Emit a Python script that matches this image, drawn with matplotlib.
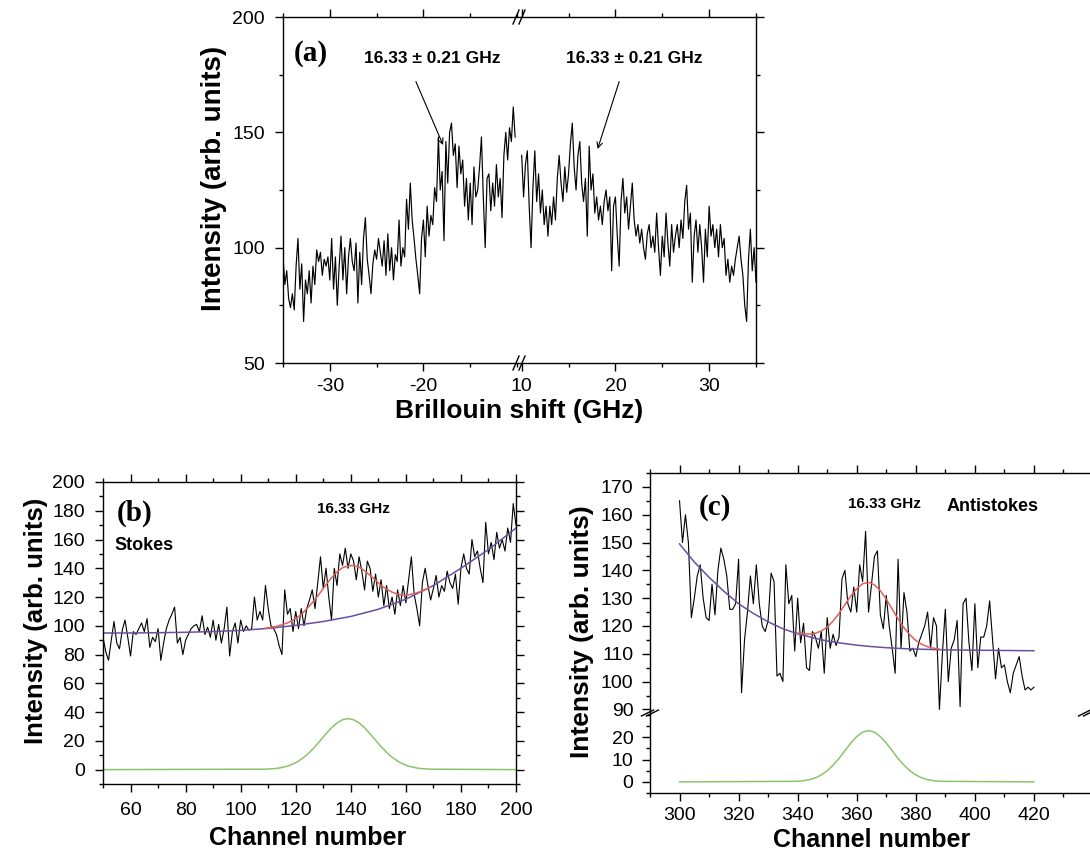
import numpy as np
import matplotlib
matplotlib.use('Agg')
import matplotlib.pyplot as plt
from matplotlib.ticker import MultipleLocator
from matplotlib.lines import Line2D

plt.rcParams['font.family'] = ['Liberation Sans', 'DejaVu Sans']
plt.rcParams['axes.unicode_minus'] = False

# ---------------- (a) Brillouin spectrum, two halves of a broken axis
int_neg = [96, 84, 90, 78, 74, 80, 73, 92, 104, 82, 93, 68, 86, 80, 90, 76, 92, 84, 99, 94, 98, 88, 95, 92, 96,
           86, 104, 82, 96, 75, 92, 105, 86, 100, 80, 96, 104, 94, 90, 102, 76, 98, 84, 104, 113, 95, 88, 80, 93, 99,
           95, 104, 98, 92, 103, 88, 106, 90, 100, 86, 97, 94, 112, 92, 100, 96, 121, 108, 128, 112, 104, 95, 88, 80, 104,
           112, 96, 118, 105, 114, 110, 126, 120, 148, 125, 133, 103, 146, 128, 150, 154, 140, 145, 126, 144, 132, 138, 118, 130, 112,
           128, 110, 135, 122, 125, 135, 148, 122, 100, 130, 132, 116, 128, 118, 136, 122, 130, 113, 140, 150, 138, 152, 146, 161, 148]
int_pos = [140, 122, 136, 142, 118, 100, 126, 142, 120, 132, 115, 125, 110, 118, 105, 118, 110, 122, 112, 130,
           140, 128, 120, 135, 124, 132, 145, 154, 135, 125, 140, 146, 128, 120, 130, 105, 144, 125, 132, 115,
           122, 112, 118, 110, 120, 125, 116, 122, 90, 118, 122, 105, 92, 120, 130, 115, 122, 108, 118, 128,
           112, 105, 110, 102, 108, 100, 95, 106, 110, 100, 105, 98, 115, 100, 88, 105, 96, 115, 102, 92,
           110, 98, 105, 110, 100, 112, 104, 120, 127, 108, 115, 85, 105, 112, 98, 110, 100, 85, 108, 96,
           118, 105, 110, 100, 108, 96, 110, 100, 104, 88, 95, 85, 92, 88, 95, 100, 105, 95, 88, 75,
           68, 95, 108, 90, 100, 85]
shift_neg = -35.0 + 0.2 * np.arange(len(int_neg))
shift_pos = 10.0 + 0.2 * np.arange(len(int_pos))

# ---------------- (b) Stokes side
chan_b = np.arange(50, 201)
int_b = [92, 82, 76, 90, 103, 88, 84, 97, 104, 92, 79, 96, 94, 98, 102, 96, 105, 85, 92, 89,
         98, 76, 88, 98, 104, 108, 113, 88, 92, 80, 90, 94, 98, 100, 101, 96, 107, 94, 99, 92,
         104, 90, 101, 88, 98, 113, 79, 96, 102, 88, 104, 96, 100, 97, 98, 120, 104, 110, 104, 128,
         112, 100, 98, 94, 86, 80, 125, 108, 112, 96, 110, 98, 112, 100, 112, 118, 125, 112, 130, 148,
         126, 140, 120, 104, 140, 128, 150, 142, 154, 140, 150, 145, 132, 148, 138, 125, 145, 140, 124, 136,
         120, 132, 114, 128, 112, 120, 108, 125, 114, 128, 116, 132, 148, 122, 112, 100, 130, 140, 128, 118,
         126, 135, 120, 128, 124, 138, 130, 126, 136, 115, 140, 150, 140, 136, 160, 148, 152, 140, 130, 172,
         150, 158, 146, 165, 154, 160, 152, 168, 158, 185, 170]
base_x_b = [50, 60, 70, 80, 90, 100, 110, 120, 130, 140, 150, 160, 170, 180, 190, 200]
base_b = [95, 95, 95.2, 95.5, 96, 96.8, 98.2, 100.3, 103, 106.5, 111.5, 118.5, 128, 140, 153, 168]
peak_x_b = [50] + list(range(109, 170, 2)) + [200]
peak_b = [0, 0.3, 0.5, 0.8, 1.5, 2.4, 3.9, 5.9, 8.6, 12.0, 16.0, 20.4, 24.9, 29.1, 32.5, 34.7, 35.5,
          34.7, 32.5, 29.1, 24.9, 20.4, 16.0, 12.0, 8.6, 5.9, 3.9, 2.4, 1.5, 0.8, 0.5, 0.3, 0]
fit_x_b = list(range(109, 170, 2))
fit_b = [98.3, 98.9, 99.6, 100.7, 102.0, 104.0, 106.4, 109.8, 113.8, 118.4, 123.3, 128.5, 133.4, 137.5, 140.4, 141.7,
         141.9, 140.7, 138.3, 135.1, 131.6, 128.1, 125.5, 123.4, 122.0, 121.4, 121.5, 122.4, 123.6, 125.2, 127.1]

# ---------------- (c) anti-Stokes side
chan_c = np.arange(300, 421)
int_c = [165, 150, 160, 150, 123, 130, 138, 142, 130, 123, 122, 135, 124, 140, 148, 144, 138, 126, 126, 128,
         144, 96, 115, 125, 138, 128, 142, 128, 120, 118, 122, 139, 136, 102, 103, 100, 142, 128, 131, 111,
         130, 114, 121, 105, 104, 118, 116, 112, 118, 103, 123, 112, 117, 113, 116, 137, 140, 128, 125, 134,
         125, 142, 136, 154, 125, 135, 145, 147, 124, 119, 131, 120, 112, 103, 144, 112, 132, 125, 111, 112,
         109, 114, 117, 120, 125, 112, 123, 120, 90, 110, 126, 100, 112, 115, 122, 91, 128, 130, 114, 104,
         128, 105, 116, 116, 120, 129, 115, 101, 112, 105, 106, 100, 96, 103, 106, 109, 102, 97, 98, 97, 98]
base_x_c = [300, 305, 310, 315, 320, 325, 330, 335, 340, 345, 350, 355, 360, 365, 370, 375, 380, 390, 400, 410, 420]
base_c = [149.5, 143, 137.5, 132.5, 128, 124.5, 121.5, 119, 117.2, 115.8, 114.6, 113.8, 113.1, 112.6, 112.2,
          111.9, 111.7, 111.4, 111.3, 111.2, 111.1]
peak_x_c = [300] + list(range(340, 389, 2)) + [420]
peak_c = [0, 0.25, 0.5, 1.0, 1.8, 3.1, 5.0, 7.5, 10.5, 14.0, 17.4, 20.3, 22.3, 23.0,
          22.3, 20.3, 17.4, 14.0, 10.5, 7.5, 5.0, 3.1, 1.8, 1.0, 0.5, 0.25, 0]
fit_x_c = list(range(340, 389, 2))
fit_c = [117.45, 117.1, 117.1, 117.4, 118.2, 119.6, 121.8, 124.5, 127.7, 130.8, 133.4, 135.2, 135.7,
         134.8, 132.7, 129.6, 126.1, 122.5, 119.4, 116.8, 114.8, 113.4, 112.55, 112.0, 111.7]

BASE_COL = '#6a4f9e'
FIT_COL = '#e0605a'
PEAK_COL = '#8cc46e'

W, H = 1090, 860
fig = plt.figure(figsize=(W / 100, H / 100), dpi=100)


def box(l, t, r, b):
    return [l / W, 1 - b / H, (r - l) / W, (b - t) / H]


def brk(x, y, dx, dy, gap):
    for off in (-gap, gap):
        fig.add_artist(Line2D([(x - dx + off) / W, (x + dx + off) / W],
                              [1 - (y + dy) / H, 1 - (y - dy) / H],
                              color='black', lw=1.0, transform=fig.transFigure))


def ticks(ax, size, pad):
    ax.tick_params(which='both', labelsize=size, width=1.0, direction='out', pad=pad)
    ax.tick_params(which='major', length=6)
    ax.tick_params(which='minor', length=3)
    for s in ax.spines.values():
        s.set_linewidth(1.0)


# ---- panel (a)
axL = fig.add_axes(box(283, 17, 517, 363))
axR = fig.add_axes(box(517, 17, 756, 363), sharey=axL)
axL.plot(shift_neg, int_neg, color='black', lw=0.85)
axR.plot(shift_pos, int_pos, color='black', lw=0.85)
axL.set_xlim(-35, -10)
axR.set_xlim(9.5, 35)
axL.set_ylim(50, 200)
for ax in (axL, axR):
    ticks(ax, 14, 5)
    ax.xaxis.set_major_locator(MultipleLocator(10))
    ax.xaxis.set_minor_locator(MultipleLocator(5))
    ax.yaxis.set_major_locator(MultipleLocator(50))
    ax.yaxis.set_minor_locator(MultipleLocator(25))
    ax.tick_params(which='both', top=True)
axL.tick_params(axis='y', pad=7)
axL.set_xticks([-30, -20])
axL.spines['right'].set_visible(False)
axR.spines['left'].set_visible(False)
axR.tick_params(which='both', left=False, labelleft=False, right=True)
axR.set_xticks([10, 20, 30])
axL.text(-33.8, 184, '(a)', family=['Liberation Serif'], fontweight='bold', fontsize=21, va='center')
arrow = dict(arrowstyle='->', color='black', lw=0.8, shrinkA=0, shrinkB=0)
axL.text(-19.1, 182, '16.33 \u00b1 0.21 GHz', ha='center', va='center', fontsize=12.5, fontweight='bold')
axL.annotate('', xy=(-17.9, 144.5), xytext=(-20.8, 172), arrowprops=arrow)
axR.text(22.0, 182, '16.33 \u00b1 0.21 GHz', ha='center', va='center', fontsize=12.5, fontweight='bold')
axR.annotate('', xy=(18.1, 142.8), xytext=(20.4, 172), arrowprops=arrow)
brk(519, 17, 3, 7, 3)
brk(519, 363, 3, 7, 3)
fig.text(214 / W, 1 - 178 / H, 'Intensity (arb. units)', rotation=90, ha='center', va='center',
         fontsize=20, fontweight='bold')
fig.text(519 / W, 1 - 411 / H, 'Brillouin shift (GHz)', ha='center', va='center',
         fontsize=19, fontweight='bold')

# ---- panel (b)
axb = fig.add_axes(box(103, 482, 516, 784))
axb.plot(chan_b, int_b, color='black', lw=0.8)
axb.plot(base_x_b, base_b, color=BASE_COL, lw=1.1)
axb.plot(fit_x_b, fit_b, color=FIT_COL, lw=1.1)
axb.plot(peak_x_b, peak_b, color=PEAK_COL, lw=1.1)
axb.set_xlim(50, 200)
axb.set_ylim(-10, 200)
ticks(axb, 14, 7)
axb.xaxis.set_major_locator(MultipleLocator(20))
axb.xaxis.set_minor_locator(MultipleLocator(10))
axb.yaxis.set_major_locator(MultipleLocator(20))
axb.yaxis.set_minor_locator(MultipleLocator(10))
axb.set_xticks(range(60, 201, 20))
axb.set_yticks(range(0, 201, 20))
axb.tick_params(which='both', top=True, right=True)
axb.text(55, 178, '(b)', family=['Liberation Serif'], fontweight='bold', fontsize=21, va='center')
axb.text(141, 181, '16.33 GHz', ha='center', va='center', fontsize=11, fontweight='bold')
axb.text(54, 156, 'Stokes', ha='left', va='center', fontsize=13, fontweight='bold')
fig.text(36 / W, 1 - 621 / H, 'Intensity (arb. units)', rotation=90, ha='center', va='center',
         fontsize=18.5, fontweight='bold')
fig.text(308 / W, 1 - 838 / H, 'Channel number', ha='center', va='center',
         fontsize=18, fontweight='bold')

# ---- panel (c), broken y axis
axcu = fig.add_axes(box(650, 473, 1093, 715))
axcl = fig.add_axes(box(650, 715, 1093, 793), sharex=axcu)
for ax in (axcu, axcl):
    ax.plot(chan_c, int_c, color='black', lw=0.8)
    ax.plot(base_x_c, base_c, color=BASE_COL, lw=1.1)
    ax.plot(fit_x_c, fit_c, color=FIT_COL, lw=1.1)
    ax.plot(peak_x_c, peak_c, color=PEAK_COL, lw=1.1)
    ticks(ax, 14, 6)
    ax.tick_params(which='both', right=True)
axcl.tick_params(axis='x', pad=4)
axcu.set_xlim(290, 440)
axcu.set_ylim(88, 175)
axcl.set_ylim(-5, 30)
axcu.spines['bottom'].set_visible(False)
axcl.spines['top'].set_visible(False)
axcu.tick_params(which='both', bottom=False, labelbottom=False, top=True)
axcl.xaxis.set_major_locator(MultipleLocator(20))
axcl.xaxis.set_minor_locator(MultipleLocator(10))
axcl.set_xticks(range(300, 421, 20))
axcu.set_yticks(range(90, 171, 10))
axcu.yaxis.set_minor_locator(MultipleLocator(5))
axcl.set_yticks([0, 10, 20])
axcl.yaxis.set_minor_locator(MultipleLocator(5))
axcu.text(306.5, 162.5, '(c)', family=['Liberation Serif'], fontweight='bold', fontsize=21, va='center')
axcu.text(369.5, 164, '16.33 GHz', ha='center', va='center', fontsize=11, fontweight='bold')
axcu.text(390.5, 163, 'Antistokes', ha='left', va='center', fontsize=13, fontweight='bold')
brk(650, 713, 6, 3, 2.5)
brk(1087, 713, 6, 3, 2.5)
fig.text(582 / W, 1 - 632 / H, 'Intensity (arb. units)', rotation=90, ha='center', va='center',
         fontsize=19, fontweight='bold')
fig.text(872 / W, 1 - 840 / H, 'Channel number', ha='center', va='center',
         fontsize=18, fontweight='bold')

fig.savefig('out.png', dpi=100)
